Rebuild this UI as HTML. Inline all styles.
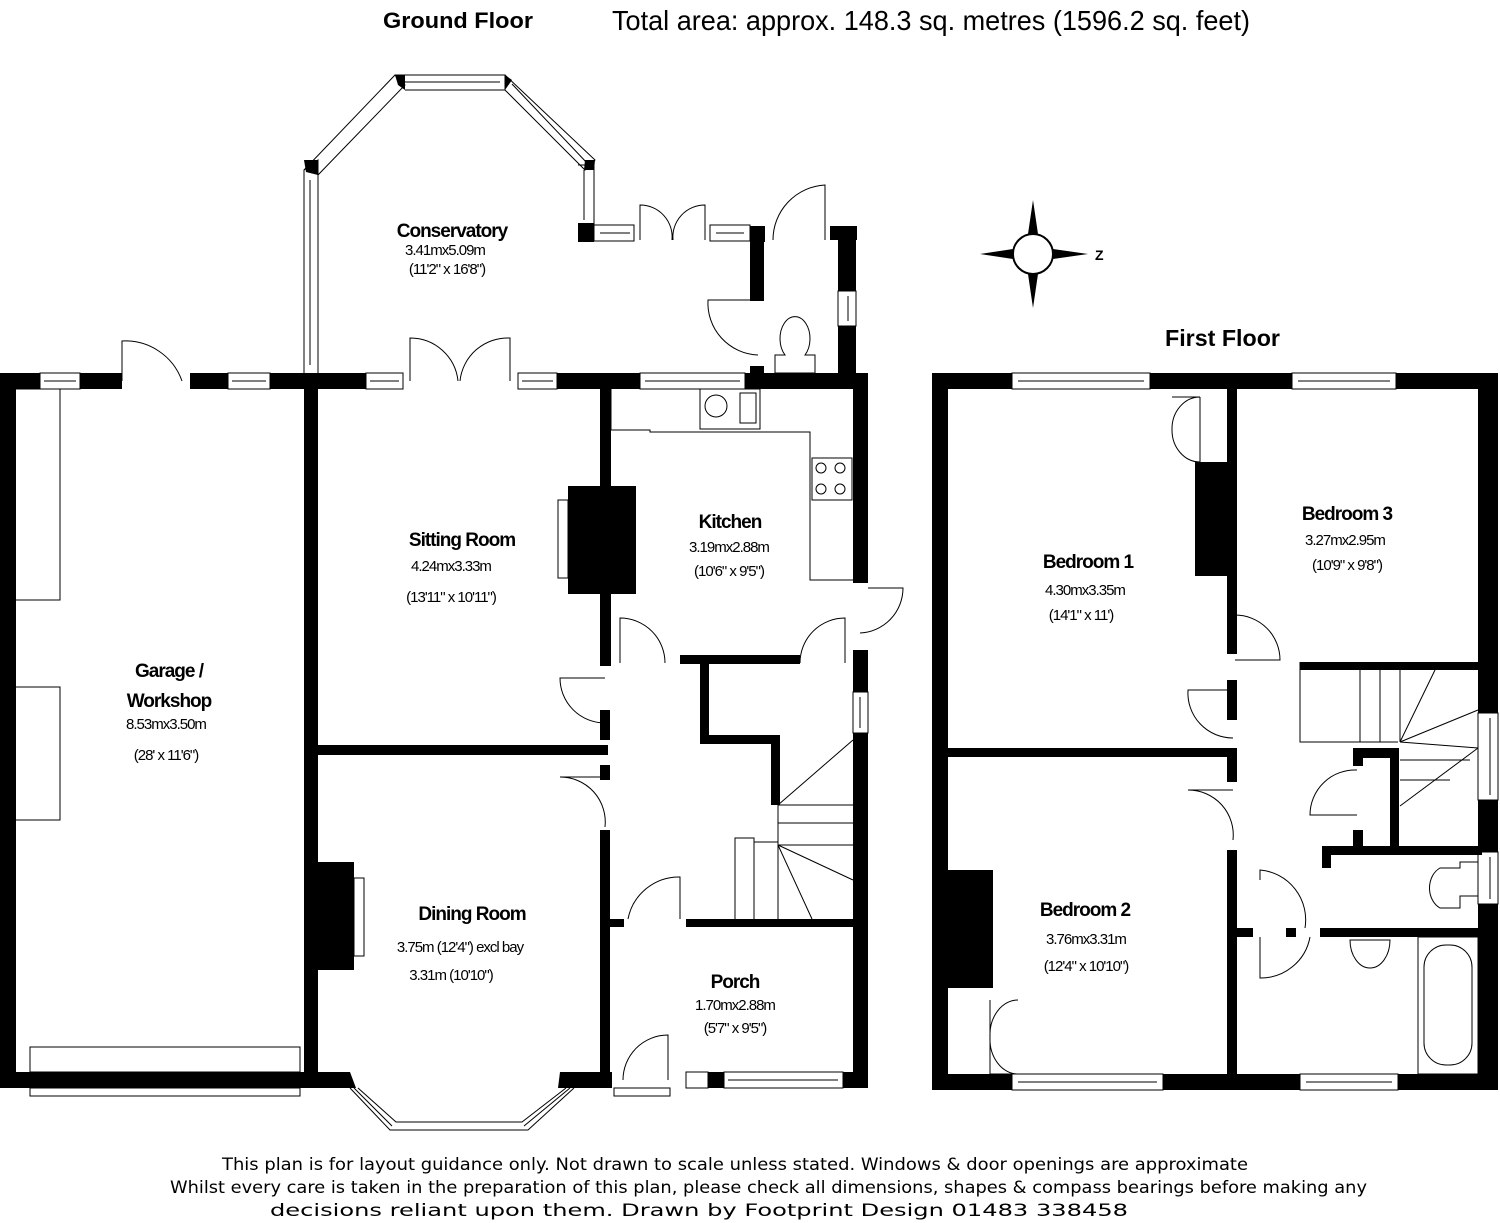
<!DOCTYPE html>
<html><head><meta charset="utf-8"><style>
html,body{margin:0;padding:0;background:#fff}
svg{display:block}
text{font-family:"Liberation Sans",Arial,sans-serif;fill:#000}
.t{font-weight:bold;font-size:19px;letter-spacing:-1px}
.s{font-size:15px;letter-spacing:-1px}
.ft{font-family:"DejaVu Sans","Liberation Sans",sans-serif;font-size:17px}
</style></head><body>
<svg width="1500" height="1223" viewBox="0 0 1500 1223" xmlns="http://www.w3.org/2000/svg">
<g fill="#000">
<rect x="0" y="373" width="40" height="16"/>
<rect x="80" y="373" width="42" height="16"/>
<rect x="190" y="373" width="38" height="16"/>
<rect x="270" y="373" width="96" height="16"/>
<rect x="557" y="373" width="83" height="16"/>
<rect x="745" y="373" width="123" height="16"/>
<rect x="0" y="373" width="16" height="715"/>
<rect x="0" y="1072" width="350" height="16"/>
<rect x="304" y="373" width="14" height="715"/>
<rect x="600" y="389" width="11" height="277"/>
<rect x="568" y="486" width="68" height="108"/>
<rect x="600" y="710" width="10" height="30"/>
<rect x="318" y="745" width="290" height="10"/>
<rect x="600" y="765" width="10" height="15"/>
<rect x="600" y="830" width="10" height="258"/>
<rect x="853" y="373" width="15" height="210"/>
<rect x="680" y="655" width="120" height="9"/>
<rect x="853" y="650" width="15" height="42"/>
<rect x="853" y="733" width="15" height="355"/>
<rect x="700" y="664" width="9" height="80"/>
<rect x="700" y="735" width="80" height="9"/>
<rect x="771" y="735" width="9" height="70"/>
<rect x="610" y="919" width="14" height="8"/>
<rect x="686" y="919" width="170" height="8"/>
<rect x="560" y="1072" width="52" height="16"/>
<rect x="708" y="1072" width="16" height="16"/>
<rect x="843" y="1072" width="24" height="16"/>
<rect x="578" y="223" width="16" height="19"/>
<rect x="750" y="226" width="15" height="16"/>
<rect x="750" y="226" width="14" height="75"/>
<rect x="830" y="226" width="27" height="14"/>
<rect x="838" y="226" width="18" height="65"/>
<rect x="838" y="326" width="18" height="60"/>
<rect x="750" y="366" width="14" height="12"/>
<rect x="318" y="862" width="36" height="108"/>
<polygon points="350,1072 340,1088 356,1088"/>
<polygon points="560,1072 574,1088 558,1088"/>
<polygon points="304,160 318,160 318,175 306,172"/>
<polygon points="395,75 405,75 405,90 398,85"/>
<polygon points="505,75 512,80 505,90"/>
<polygon points="585,160 595,160 594,170 584,170"/>

<rect x="932" y="373" width="80" height="16"/>
<rect x="1150" y="373" width="142" height="16"/>
<rect x="1396" y="373" width="102" height="16"/>
<rect x="932" y="373" width="16" height="717"/>
<rect x="1478" y="373" width="20" height="340"/>
<rect x="1478" y="800" width="20" height="52"/>
<rect x="1478" y="904" width="20" height="186"/>
<rect x="932" y="1074" width="80" height="16"/>
<rect x="1163" y="1074" width="137" height="16"/>
<rect x="1398" y="1074" width="100" height="16"/>
<rect x="1227" y="389" width="10" height="265"/>
<rect x="1227" y="680" width="10" height="40"/>
<rect x="948" y="748" width="289" height="9"/>
<rect x="1227" y="757" width="10" height="25"/>
<rect x="1227" y="850" width="10" height="225"/>
<rect x="1195" y="462" width="34" height="114"/>
<rect x="1300" y="662" width="180" height="8"/>
<rect x="1353" y="748" width="45" height="10"/>
<rect x="1390" y="748" width="9" height="100"/>
<rect x="1353" y="748" width="10" height="18"/>
<rect x="1353" y="830" width="10" height="18"/>
<rect x="1322" y="846" width="160" height="9"/>
<rect x="1322" y="846" width="9" height="22"/>
<rect x="1237" y="928" width="16" height="9"/>
<rect x="1286" y="928" width="10" height="9"/>
<rect x="1320" y="928" width="160" height="9"/>
<rect x="948" y="870" width="45" height="118"/>
</g>
<g fill="none" stroke="#000" stroke-width="1">
<rect x="40" y="373" width="40" height="16"/><line x1="44" y1="381" x2="76" y2="381"/>
<rect x="228" y="373" width="42" height="16"/><line x1="232" y1="381" x2="266" y2="381"/>
<rect x="366" y="373" width="37" height="16"/><line x1="370" y1="381" x2="399" y2="381"/>
<rect x="518" y="373" width="39" height="16"/><line x1="522" y1="381" x2="553" y2="381"/>
<rect x="640" y="373" width="105" height="16"/><line x1="645" y1="381" x2="740" y2="381"/>
<path d="M122 381 L122 341 A60 60 0 0 1 182 381"/>
<path d="M410 381 L410 338 A48 48 0 0 1 458 381 M510 381 L510 338 A48 48 0 0 0 460 381"/>
<path d="M304 373 L304 170 L318 160 L318 373 M310 180 L310 365"/>
<path d="M304 170 L395 75 L405 85 L318 175"/>
<path d="M395 75 L505 75 L505 90 L405 90 M400 82 L500 82"/>
<path d="M505 75 L595 160 L585 170 L505 90 M512 84 L588 164"/>
<path d="M578 165 L594 165 L594 225 M584 170 L584 220"/>
<rect x="594" y="225" width="40" height="16"/><line x1="600" y1="233" x2="630" y2="233"/>
<path d="M640 240 L640 205 A32 32 0 0 1 672 240 M705 240 L705 205 A32 32 0 0 0 673 240"/>
<rect x="710" y="225" width="40" height="16"/><line x1="716" y1="233" x2="744" y2="233"/>
<path d="M825 240 L825 185 A55 55 0 0 0 773 240"/>
<path d="M758 300 L708 300 A52 52 0 0 0 758 355"/>
<rect x="838" y="291" width="18" height="35"/><line x1="848" y1="296" x2="848" y2="321"/>
<path d="M775 373 L775 355 L785 355 A15 22 0 1 1 805 355 L815 355 L815 373 Z"/>
<path d="M16 389 L60 389 L60 600 L16 600 M16 687 L60 687 L60 820 L16 820"/>
<rect x="30" y="1047" width="270" height="25"/>
<rect x="30" y="1088" width="270" height="8"/>
<rect x="558" y="500" width="10" height="78"/>
<rect x="354" y="878" width="10" height="78"/>
<path d="M611 389 L611 430 L650 430 L650 432 L810 432 L810 580 L853 580"/>
<rect x="700" y="389" width="60" height="40"/>
<circle cx="716" cy="406" r="11"/><rect x="740" y="393" width="16" height="30"/>
<rect x="812" y="458" width="40" height="42"/>
<circle cx="821" cy="468" r="5"/><circle cx="840" cy="468" r="5"/><circle cx="821" cy="489" r="5"/><circle cx="840" cy="489" r="5"/>
<path d="M868 588 L903 588 A45 45 0 0 1 860 633"/>
<path d="M620 663 L620 618 A45 45 0 0 1 665 663"/>
<path d="M845 663 L845 618 A45 45 0 0 0 800 663"/>
<path d="M605 678 L560 678 A45 45 0 0 0 605 723"/>
<path d="M605 777 L560 777 A45 45 0 0 1 605 827"/>
<path d="M680 919 L680 877 A52 52 0 0 0 628 919"/>
<path d="M668 1080 L668 1035 A45 45 0 0 0 623 1080"/>
<rect x="614" y="1088" width="56" height="8"/>
<rect x="724" y="1072" width="119" height="16"/><line x1="728" y1="1080" x2="838" y2="1080"/>
<rect x="686" y="1072" width="22" height="16"/>
<rect x="853" y="692" width="15" height="41"/><line x1="860" y1="697" x2="860" y2="728"/>
<path d="M778 805 L778 919 M778 805 L853 740 M778 805 L853 805 M778 823 L853 823 M778 845 L853 845 M778 845 L853 880 M778 845 L812 919 M735 919 L735 838 L754 838 L754 919 M754 842 L778 842"/>
<path d="M350 1088 L390 1130 L528 1130 L574 1088 M358 1088 L396 1122 L522 1122 L566 1088 M354 1088 L392 1126 M524 1126 L570 1088"/>
<rect x="1012" y="373" width="138" height="16"/><line x1="1018" y1="381" x2="1144" y2="381"/>
<rect x="1292" y="373" width="104" height="16"/><line x1="1298" y1="381" x2="1390" y2="381"/>
<rect x="1012" y="1074" width="151" height="16"/><line x1="1018" y1="1082" x2="1157" y2="1082"/>
<rect x="1300" y="1074" width="98" height="16"/><line x1="1306" y1="1082" x2="1392" y2="1082"/>
<rect x="1478" y="713" width="20" height="87"/><line x1="1490" y1="718" x2="1490" y2="795"/>
<rect x="1478" y="852" width="20" height="52"/><line x1="1490" y1="857" x2="1490" y2="899"/>
<path d="M1200 397 L1200 462 M1172 397 L1200 397 A28 32 0 0 0 1172 430 A28 32 0 0 0 1200 462"/>
<path d="M1235 660 L1280 660 A45 45 0 0 0 1235 615"/>
<path d="M1233 690 L1188 690 A45 45 0 0 0 1233 738"/>
<path d="M1233 790 L1188 790 A45 45 0 0 1 1233 840"/>
<path d="M1357 815 L1310 815 A45 45 0 0 1 1357 770"/>
<path d="M1260 880 L1260 870 A50 50 0 0 1 1305 928"/>
<path d="M1260 937 L1260 978 A50 50 0 0 0 1310 937"/>
<path d="M990 1074 L990 1000 M1018 1074 L990 1074 M1018 1000 A28 35 0 0 0 990 1037 A28 35 0 0 0 1018 1074"/>
<path d="M1300 662 L1300 742 L1398 742 M1360 670 L1360 742 M1380 670 L1380 742 M1400 670 L1400 742 M1400 742 L1435 670 M1400 742 L1478 710 M1400 742 L1478 748 M1400 760 L1470 760 M1400 780 L1450 780 M1400 806 L1478 748"/>
<path d="M1478 862 L1460 862 L1460 868 L1440 868 A18 22 0 0 0 1440 908 L1460 908 L1460 896 L1478 896"/>
<rect x="1418" y="937" width="60" height="137"/>
<rect x="1424" y="945" width="48" height="120" rx="22"/>
<path d="M1350 940 A20 28 0 0 0 1390 940 Z"/>
</g>
<g>
<circle cx="1033" cy="254" r="20" fill="#fff" stroke="#000" stroke-width="2"/>
<polygon points="1033,200 1028,234 1038,234" fill="#000"/>
<polygon points="1033,308 1028,274 1038,274" fill="#000"/>
<polygon points="980,254 1013,249 1013,259" fill="#000"/>
<polygon points="1088,254 1053,249 1053,259" fill="#000"/>
<text x="1095" y="260" font-size="14" font-weight="bold">Z</text>
</g>
<text x="383" y="28" style="font-weight:bold;font-size:22px" textLength="150" lengthAdjust="spacingAndGlyphs">Ground Floor</text>
<text x="612" y="30" style="font-size:28px" textLength="638" lengthAdjust="spacingAndGlyphs">Total area: approx. 148.3 sq. metres (1596.2 sq. feet)</text>
<text x="1165" y="346" style="font-weight:bold;font-size:23px" textLength="115" lengthAdjust="spacingAndGlyphs">First Floor</text>
<text x="452" y="237" class="t" text-anchor="middle">Conservatory</text>
<text x="445" y="255" class="s" text-anchor="middle">3.41mx5.09m</text>
<text x="447" y="274" class="s" text-anchor="middle">(11'2" x 16'8")</text>
<text x="462" y="546" class="t" text-anchor="middle">Sitting Room</text>
<text x="451" y="571" class="s" text-anchor="middle">4.24mx3.33m</text>
<text x="451" y="602" class="s" text-anchor="middle">(13'11" x 10'11")</text>
<text x="730" y="528" class="t" text-anchor="middle">Kitchen</text>
<text x="729" y="552" class="s" text-anchor="middle">3.19mx2.88m</text>
<text x="729" y="576" class="s" text-anchor="middle">(10'6" x 9'5")</text>
<text x="169" y="677" class="t" text-anchor="middle">Garage /</text>
<text x="169" y="707" class="t" text-anchor="middle">Workshop</text>
<text x="166" y="729" class="s" text-anchor="middle">8.53mx3.50m</text>
<text x="166" y="760" class="s" text-anchor="middle">(28' x 11'6")</text>
<text x="472" y="920" class="t" text-anchor="middle">Dining Room</text>
<text x="460" y="952" class="s" text-anchor="middle">3.75m (12'4") excl bay</text>
<text x="451" y="980" class="s" text-anchor="middle">3.31m (10'10")</text>
<text x="735" y="988" class="t" text-anchor="middle">Porch</text>
<text x="735" y="1010" class="s" text-anchor="middle">1.70mx2.88m</text>
<text x="735" y="1033" class="s" text-anchor="middle">(5'7" x 9'5")</text>
<text x="1088" y="568" class="t" text-anchor="middle">Bedroom 1</text>
<text x="1085" y="595" class="s" text-anchor="middle">4.30mx3.35m</text>
<text x="1081" y="620" class="s" text-anchor="middle">(14'1" x 11')</text>
<text x="1347" y="520" class="t" text-anchor="middle">Bedroom 3</text>
<text x="1345" y="545" class="s" text-anchor="middle">3.27mx2.95m</text>
<text x="1347" y="570" class="s" text-anchor="middle">(10'9" x 9'8")</text>
<text x="1085" y="916" class="t" text-anchor="middle">Bedroom 2</text>
<text x="1086" y="944" class="s" text-anchor="middle">3.76mx3.31m</text>
<text x="1086" y="971" class="s" text-anchor="middle">(12'4" x 10'10")</text>
<text x="222" y="1170" class="ft" textLength="1026" lengthAdjust="spacingAndGlyphs">This plan is for layout guidance only. Not drawn to scale unless stated. Windows &amp; door openings are approximate</text>
<text x="170" y="1193" class="ft" textLength="1197" lengthAdjust="spacingAndGlyphs">Whilst every care is taken in the preparation of this plan, please check all dimensions, shapes &amp; compass bearings before making any</text>
<text x="270" y="1216" class="ft" textLength="858" lengthAdjust="spacingAndGlyphs">decisions reliant upon them. Drawn by Footprint Design 01483 338458</text>
</svg>
</body></html>
